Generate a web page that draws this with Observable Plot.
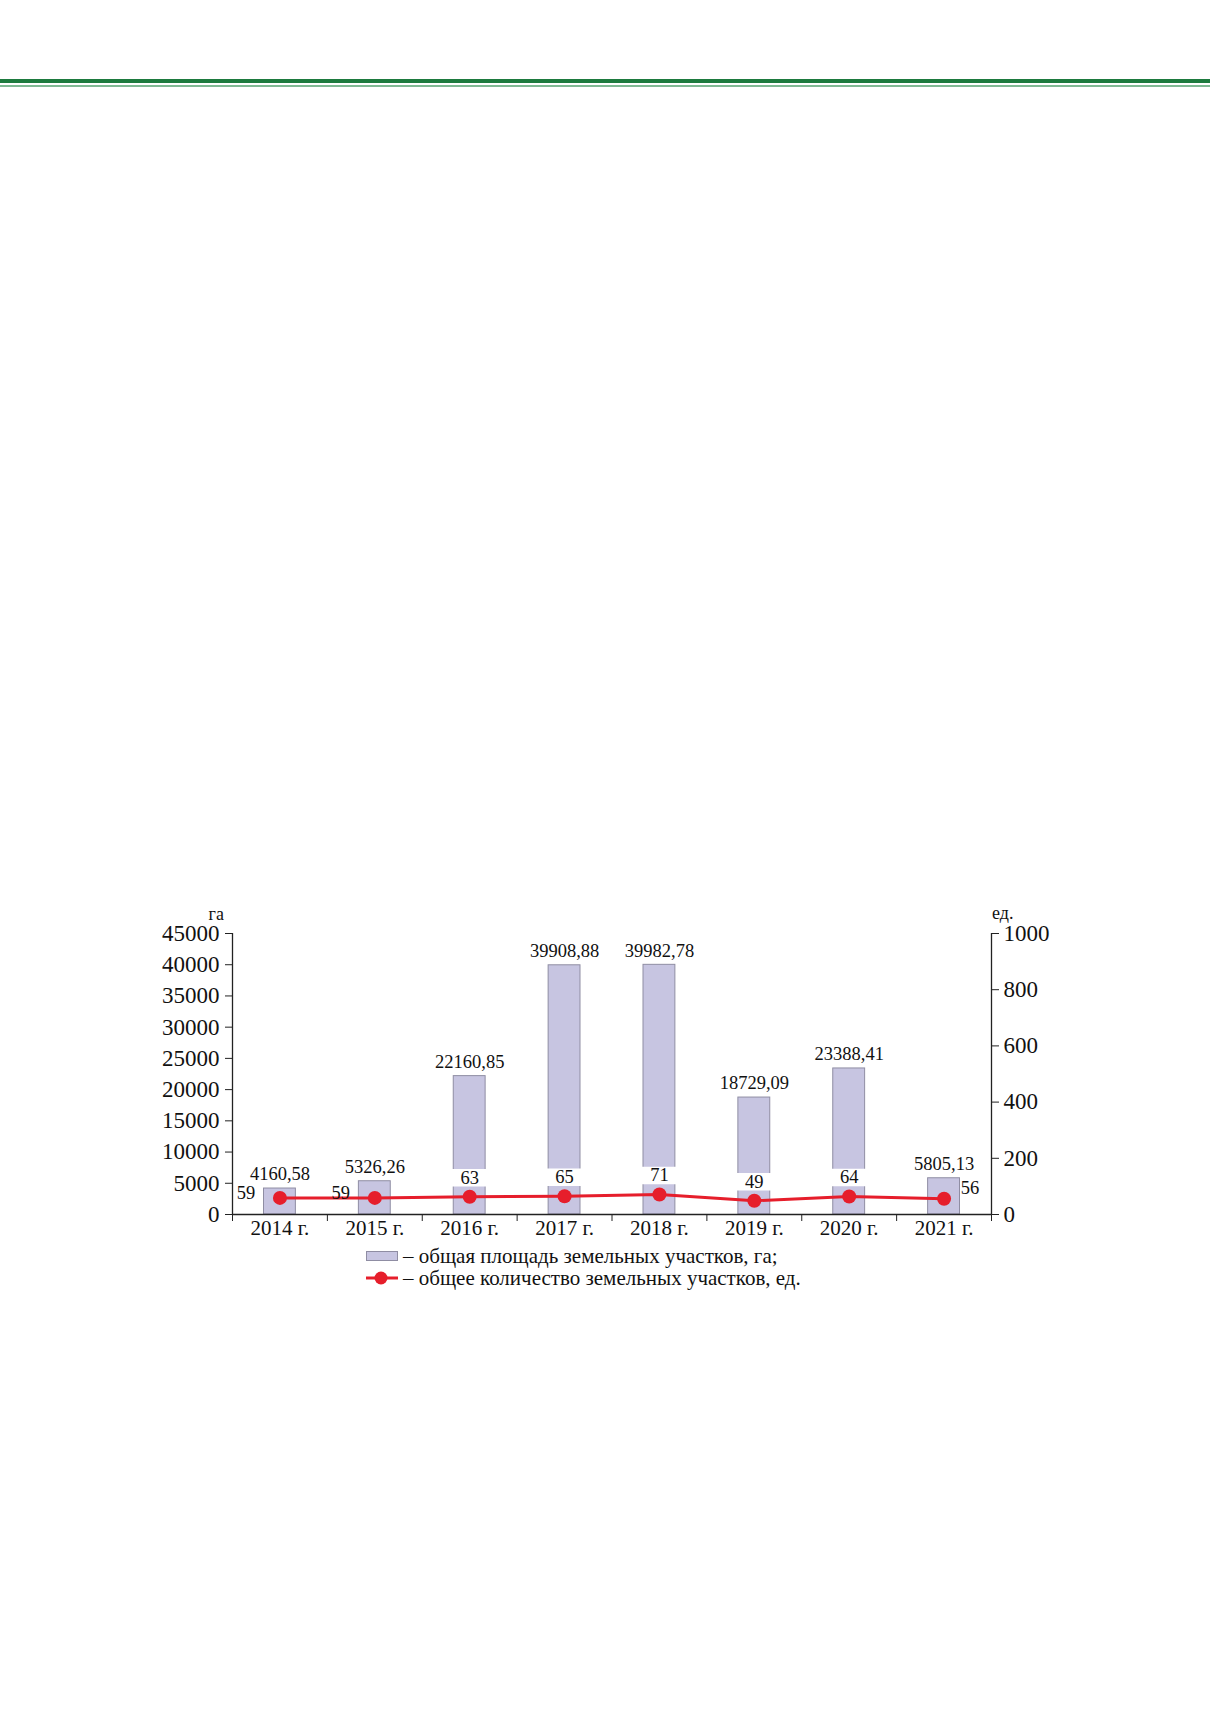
<!DOCTYPE html>
<html><head><meta charset="utf-8">
<script src="https://cdn.jsdelivr.net/npm/d3@7"></script>
<script src="https://cdn.jsdelivr.net/npm/@observablehq/plot@0.6"></script>
<style>
html,body{margin:0;padding:0;background:#fff;}
#page{position:relative;width:1210px;height:1712px;overflow:hidden;font-family:"Liberation Serif","DejaVu Serif",serif;}
.rule1{position:absolute;left:0;top:79px;width:1210px;height:4px;background:#1d7a3e;}
.rule2{position:absolute;left:0;top:85px;width:1210px;height:2px;background:#80b994;}
#chart{position:absolute;left:0;top:0;}
#legend{position:absolute;left:366px;top:1245px;font-size:21px;color:#111;line-height:22px;}
#legend div{display:flex;align-items:center;height:22px;}
#legend svg{margin-right:5px;}
</style></head>
<body><div id="page">
<div class="rule1"></div><div class="rule2"></div>
<div id="chart"></div>
<div id="legend">
  <div><svg width="32" height="12"><rect x="0.5" y="1.5" width="31" height="9" fill="#c7c5e1" stroke="#8f8da3"/></svg>– общая площадь земельных участков, га;</div>
  <div><svg width="32" height="16"><line x1="0" y1="8" x2="32" y2="8" stroke="#e61e2b" stroke-width="3"/><circle cx="15" cy="8" r="6.5" fill="#e61e2b"/></svg>– общее количество земельных участков, ед.</div>
</div>
</div>
<script>
const years = ["2014 г.","2015 г.","2016 г.","2017 г.","2018 г.","2019 г.","2020 г.","2021 г."];
const areaHa = [4160.58, 5326.26, 22160.85, 39908.88, 39982.78, 18729.09, 23388.41, 5805.13];
const countUnits = [59, 59, 63, 65, 71, 49, 64, 56];
const areaTicks = [0,5000,10000,15000,20000,25000,30000,35000,40000,45000];
const countTicks = [0,200,400,600,800,1000];
const areaMax = 45000, countMax = 1000;
const k = areaMax / countMax;

const data = years.map((y, i) => ({i, year: y, area: areaHa[i], count: countUnits[i]}));
const fmt = v => v.toFixed(2).replace(".", ",");
const leftLabelled = data.slice(0, 2);
const rightLabelled = data.slice(-1);
const topLabelled = data.slice(2, -1);

const RED = "#e61e2b";
const FONT = "Liberation Serif";

const chart = Plot.plot({
  width: 1210, height: 1712,
  marginLeft: 232, marginRight: 219, marginTop: 933, marginBottom: 498,
  style: {fontFamily: FONT, color: "#111", background: "transparent", overflow: "visible"},
  x: {type: "linear", domain: [0, years.length], label: null},
  y: {domain: [0, areaMax], label: null},
  marks: [
    Plot.rectY(data, {x1: d => d.i, x2: d => d.i + 1, y: "area", insetLeft: 31.5, insetRight: 31.5,
      fill: "#c7c5e1", stroke: "#8f8da3", strokeWidth: 1}),
    Plot.ruleY(topLabelled, {y: d => d.count * k, x1: d => d.i, x2: d => d.i + 1, dy: -19,
      insetLeft: 29, insetRight: 29, stroke: "white", strokeWidth: 17.5}),
    Plot.ruleX([0, years.length], {y1: 0, y2: areaMax, stroke: "#222", strokeWidth: 1.3}),
    Plot.ruleY([0], {stroke: "#222", strokeWidth: 1.3}),
    Plot.axisY({anchor: "left", ticks: areaTicks, tickSize: 7, tickPadding: 6, fontSize: 23,
      tickFormat: d3.format("d"), label: null, stroke: "#222"}),
    Plot.axisY({anchor: "right", ticks: countTicks.map(v => v * k), tickSize: 7, tickPadding: 5, fontSize: 23,
      tickFormat: v => String(Math.round(v / k)), label: null, stroke: "#222"}),
    Plot.axisX({anchor: "bottom", ticks: d3.range(years.length + 1), tickSize: 7, tickFormat: () => "", label: null, stroke: "#222"}),
    Plot.axisX({anchor: "bottom", ticks: data.map(d => d.i + 0.5), tickSize: 0, tickPadding: 6, fontSize: 21,
      tickFormat: t => years[Math.floor(t)], label: null}),
    Plot.line(data, {x: d => d.i + 0.5, y: d => d.count * k, stroke: RED, strokeWidth: 3}),
    Plot.dot(data, {x: d => d.i + 0.5, y: d => d.count * k, r: 7, fill: RED}),
    Plot.text(data, {x: d => d.i + 0.5, y: "area", text: d => fmt(d.area), dy: -14, lineAnchor: "middle", fontSize: 18.5, fill: "#111"}),
    Plot.text(topLabelled, {x: d => d.i + 0.5, y: d => d.count * k, text: d => String(d.count), dy: -19, lineAnchor: "middle", fontSize: 18.5, fill: "#111"}),
    Plot.text(leftLabelled, {x: d => d.i + 0.5, y: d => d.count * k, text: d => String(d.count), dx: -34, dy: -5, lineAnchor: "middle", fontSize: 18.5, fill: "#111"}),
    Plot.text(rightLabelled, {x: d => d.i + 0.5, y: d => d.count * k, text: d => String(d.count), dx: 26, dy: -11, lineAnchor: "middle", fontSize: 18.5, fill: "#111"}),
    Plot.text(["га"], {frameAnchor: "top-left", dx: -24, dy: -19, lineAnchor: "middle", fontSize: 18, fill: "#111"}),
    Plot.text(["ед."], {frameAnchor: "top-right", dx: 22, dy: -20, lineAnchor: "middle", fontSize: 18, fill: "#111"})
  ]
});
document.getElementById("chart").appendChild(chart);
</script>
</body></html>
